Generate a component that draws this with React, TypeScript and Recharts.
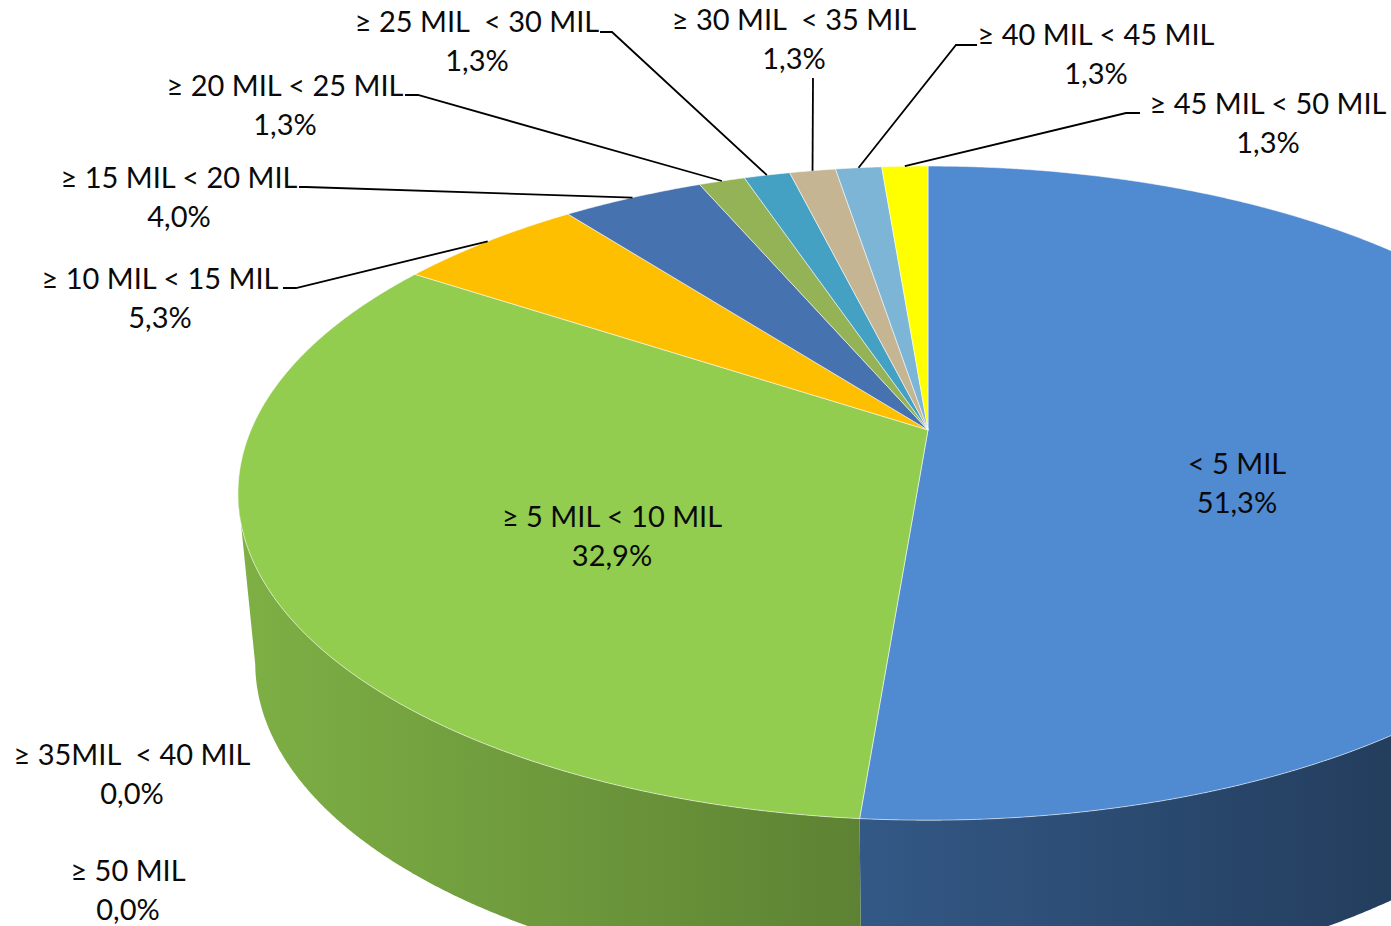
import { Pie, PieChart } from "recharts";

const bands = [
  "< 5 MIL",
  "≥ 5 MIL < 10 MIL",
  "≥ 10 MIL < 15 MIL",
  "≥ 15 MIL < 20 MIL",
  "≥ 20 MIL < 25 MIL",
  "≥ 25 MIL  < 30 MIL",
  "≥ 30 MIL  < 35 MIL",
  "≥ 35MIL  < 40 MIL",
  "≥ 40 MIL < 45 MIL",
  "≥ 45 MIL < 50 MIL",
  "≥ 50 MIL",
];
const shares = [51.3, 32.9, 5.3, 4.0, 1.3, 1.3, 1.3, 0.0, 1.3, 1.3, 0.0];
const sliceColors = [
  "#508BD2",
  "#92CD50",
  "#FDBF00",
  "#4772B0",
  "#93B356",
  "#45A1C4",
  "#C6B593",
  "#8064A2",
  "#7DB5D7",
  "#FFFF00",
  "#F79646",
];

// where each label block sits; lead = [start x, stub end x, y] of the leader line
const labelSpots: { x: number; y: number; lead?: number[] }[] = [
  { x: 1237, y: 464 },
  { x: 612, y: 517 },
  { x: 160, y: 279, lead: [283, 296, 288] },
  { x: 179, y: 178, lead: [299, 306, 187] },
  { x: 285, y: 86, lead: [405, 418, 95] },
  { x: 477, y: 22, lead: [600, 612, 32] },
  { x: 794, y: 20, lead: [813, 813, 78] },
  { x: 132, y: 755 },
  { x: 1096, y: 35, lead: [977, 956, 45] },
  { x: 1268, y: 104, lead: [1140, 1126, 113] },
  { x: 128, y: 871 },
];

const TILT = 0.474; // vertical squash of the disc
const PERSP = -0.193; // how far the centre sits toward the back
const DEPTH = 170;
const BASE_SHRINK = 0.975; // bottom rim looks a bit narrower
const FONT = "Lato, 'Open Sans', sans-serif";

const data = bands.map((name, i) => ({ name, value: shares[i], fill: sliceColors[i] }));

// point on the rim for a library angle, seen in perspective
function rim(cx: number, cy: number, r: number, angle: number): [number, number] {
  const a = (angle * Math.PI) / 180;
  const u = Math.cos(a);
  const v = -Math.sin(a);
  const d = 1 + PERSP * v;
  const up = (u * Math.sqrt(1 - PERSP * PERSP)) / d;
  const vp = (v + PERSP) / d;
  const midY = cy - r * TILT * PERSP;
  return [cx + r * up, midY + r * TILT * vp];
}

function shade(hex: string, k: number) {
  const n = parseInt(hex.slice(1), 16);
  const c = [(n >> 16) & 255, (n >> 8) & 255, n & 255].map((x) => Math.round(x * k));
  return `rgb(${c[0]},${c[1]},${c[2]})`;
}

function Slice3D(props: any) {
  const { cx, cy, outerRadius, startAngle, endAngle, fill, index } = props;
  const span = endAngle - startAngle;
  if (Math.abs(span) < 1e-6) return <g />;
  const n = Math.max(2, Math.ceil(Math.abs(span) / 0.25));
  const pts: [number, number][] = [];
  for (let i = 0; i <= n; i++) pts.push(rim(cx, cy, outerRadius, startAngle + (span * i) / n));
  const midY = cy - outerRadius * TILT * PERSP;
  const front = pts.filter((p) => p[1] >= midY);
  const top = `M${cx},${cy} L` + pts.map((p) => `${p[0]},${p[1]}`).join(" L") + " Z";
  let wall = "";
  if (front.length > 1) {
    wall =
      "M" +
      front.map((p) => `${p[0]},${p[1]}`).join(" L") +
      " L" +
      front
        .slice()
        .reverse()
        .map((p) => `${cx + (p[0] - cx) * BASE_SHRINK},${p[1] + DEPTH}`)
        .join(" L") +
      " Z";
  }
  const gid = `wall-${index ?? fill.slice(1)}`;
  return (
    <g>
      <defs>
        <linearGradient
          id={gid}
          gradientUnits="userSpaceOnUse"
          x1={cx - outerRadius}
          x2={cx + outerRadius}
          y1={0}
          y2={0}
        >
          <stop offset="0" stopColor={shade(fill, 0.86)} />
          <stop offset="1" stopColor={shade(fill, 0.36)} />
        </linearGradient>
      </defs>
      {wall && <path d={wall} fill={`url(#${gid})`} />}
      <path
        d={top}
        fill={fill}
        stroke="#ffffff"
        strokeOpacity={0.6}
        strokeWidth={0.9}
        strokeLinejoin="round"
      />
    </g>
  );
}

function SliceLabel(props: any) {
  const { cx, cy, outerRadius, midAngle, index } = props;
  const spot = labelSpots[index];
  if (!spot) return null;
  const pct = shares[index].toFixed(1).replace(".", ",") + "%";
  let line = null;
  if (spot.lead) {
    const [rx, ry] = rim(cx, cy, outerRadius, midAngle);
    const [sx, ex, y] = spot.lead;
    line = (
      <polyline
        points={`${sx},${y} ${ex},${y} ${rx},${ry}`}
        fill="none"
        stroke="#000"
        strokeWidth={1.8}
      />
    );
  }
  return (
    <g>
      {line}
      <text
        x={spot.x}
        y={spot.y + 10}
        textAnchor="middle"
        fontFamily={FONT}
        fontSize={29}
        fill="#0a0a0a"
        style={{ whiteSpace: "pre" }}
      >
        {bands[index]}
      </text>
      <text
        x={spot.x}
        y={spot.y + 49}
        textAnchor="middle"
        fontFamily={FONT}
        fontSize={29}
        fill="#0a0a0a"
      >
        {pct}
      </text>
    </g>
  );
}

export default function App() {
  return (
    <div style={{ position: "absolute", left: 0, top: 0, background: "#fff" }}>
      <PieChart width={1391} height={926} margin={{ top: 0, right: 0, bottom: 0, left: 0 }}>
        <Pie
          data={data}
          dataKey="value"
          nameKey="name"
          cx={928}
          cy={430}
          outerRadius={690}
          startAngle={90}
          endAngle={-270}
          stroke="none"
          shape={Slice3D}
          activeShape={Slice3D}
          inactiveShape={Slice3D}
          label={SliceLabel}
          labelLine={false}
          isAnimationActive={false}
        />
      </PieChart>
    </div>
  );
}
